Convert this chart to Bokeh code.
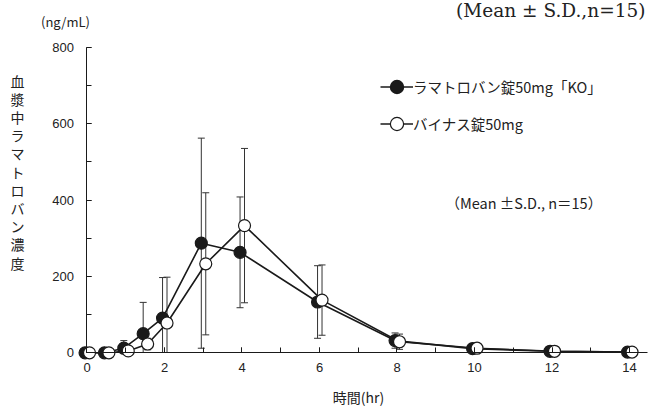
import numpy as np
from bokeh.plotting import figure
from bokeh.models import Label, Legend, LegendItem, SingleIntervalTicker
from bokeh.embed import file_html
from bokeh.resources import INLINE

# ---------------- data ----------------
time_hr = [0, 0.5, 1, 1.5, 2, 3, 4, 6, 8, 10, 12, 14]
ko_mean = [0, 0, 12, 50, 91, 287, 263, 133, 32, 11, 4, 2]
ko_sd = [0, 1, 20, 82, 106, 275, 145, 95, 20, 5, 3, 1]
vinas_mean = [0, 0, 5, 23, 78, 233, 333, 138, 29, 12, 4, 2]
vinas_sd = [0, 1, 6, 15, 120, 186, 202, 92, 20, 5, 3, 1]
series_names = ["ラマトロバン錠50mg「KO」", "バイナス錠50mg"]
y_axis_title = "血漿中ラマトロバン濃度"
x_axis_title = "時間(hr)"
unit_text = "(ng/mL)"
note_inner = "（Mean ±S.D., n＝15）"
note_top = "(Mean ± S.D.,n=15)"

JP = "Noto Sans CJK JP"
INK = "#1a1a1a"

p = figure(width=649, height=408, output_backend="svg", toolbar_location=None,
           x_range=(-2.232, 14.516), y_range=(-145.8, 922.3),
           min_border_left=0, min_border_right=0, min_border_top=0, min_border_bottom=0)
p.outline_line_color = None
p.xgrid.visible = False
p.ygrid.visible = False
p.background_fill_color = "white"
p.border_fill_color = "white"

# axes crossing at origin
p.xaxis.fixed_location = 0
p.yaxis.fixed_location = 0
p.xaxis.bounds = (0, 14.465)
p.yaxis.bounds = (0, 800)
p.xaxis.ticker = SingleIntervalTicker(interval=2, num_minor_ticks=2)
p.yaxis.ticker = SingleIntervalTicker(interval=200, num_minor_ticks=2)
for ax in (p.xaxis, p.yaxis):
    ax.axis_line_color = INK
    ax.axis_line_width = 1
    ax.major_tick_line_color = INK
    ax.minor_tick_line_color = INK
    ax.major_tick_in = 5
    ax.major_tick_out = 0
    ax.minor_tick_in = 5
    ax.minor_tick_out = 0
    ax.major_label_text_font = "Liberation Sans"
    ax.major_label_text_font_size = "13px"
    ax.major_label_text_color = "#222222"
p.xaxis.major_label_standoff = 10
p.yaxis.major_label_standoff = 13

# ---------------- series ----------------
t = np.array(time_hr, dtype=float)
series = [
    (np.array(ko_mean, float), np.array(ko_sd, float), -0.05, INK),
    (np.array(vinas_mean, float), np.array(vinas_sd, float), 0.065, "white"),
]

legend_items = []
# error bars first
for mean, sd, dx, fill in series:
    x = t + dx
    hi = mean + sd
    lo_raw = mean - sd
    lo = np.clip(lo_raw, 0, None)
    p.segment(x0=x, y0=lo, x1=x, y1=hi, line_color="#333333", line_width=1)
    p.scatter(x=x, y=hi, marker="dash", size=7, line_color="#333333", line_width=1)
    lo_cap = np.where(lo_raw > 0, lo_raw, np.nan)
    p.scatter(x=x, y=lo_cap, marker="dash", size=7, line_color="#333333", line_width=1)

for (mean, sd, dx, fill), name in zip(series, series_names):
    x = t + dx
    ln = p.line(x=x, y=mean, line_color=INK, line_width=1.6)
    sc = p.scatter(x=x, y=mean, marker="circle", size=12, fill_color=fill,
                   line_color=INK, line_width=1.2)
    legend_items.append(LegendItem(label=name, renderers=[ln, sc]))

legend = Legend(items=legend_items, location=(380, 268),
                glyph_width=33, glyph_height=33, label_height=33,
                label_standoff=0, spacing=4, padding=0, margin=0,
                border_line_color=None, background_fill_alpha=0,
                label_text_font=JP, label_text_font_size="14.5px",
                label_text_color="#222222")
p.add_layout(legend, "center")

# ---------------- texts ----------------
p.add_layout(Label(x=9.25, y=394, text=note_inner, text_font=JP,
                   text_font_size="14.5px", text_color="#222222",
                   text_align="left", text_baseline="middle"))
p.add_layout(Label(x=14.41, y=895, text=note_top, text_font="DejaVu Serif",
                   text_font_size="18.5px", text_color="#222222",
                   text_align="right", text_baseline="middle"))
p.add_layout(Label(x=-0.555, y=867, text=unit_text, text_font=JP,
                   text_font_size="13px", text_color="#222222",
                   text_align="center", text_baseline="middle"))
p.add_layout(Label(x=7.006, y=-117, text=x_axis_title, text_font=JP,
                   text_font_size="14px", text_color="#222222",
                   text_align="center", text_baseline="middle"))
p.add_layout(Label(x=-1.794, y=739, text="\n".join(list(y_axis_title)), text_font=JP,
                   text_font_size="14px", text_color="#222222",
                   text_align="center", text_baseline="top", text_line_height=0.91))

open("out.html", "w").write(file_html(p, INLINE))
